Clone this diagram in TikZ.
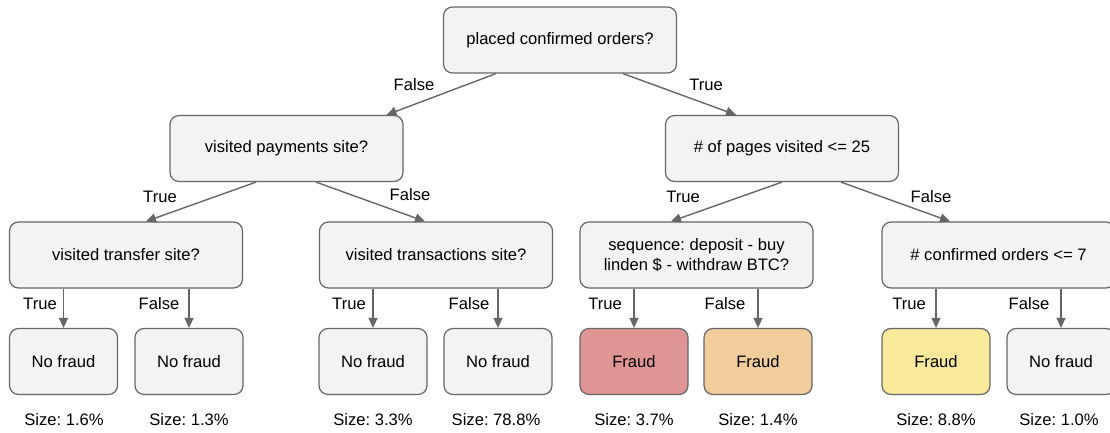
\documentclass[tikz,border=0pt]{standalone}
\usepackage{fontspec}
\setmainfont{Liberation Sans}
\usetikzlibrary{arrows.meta}
\definecolor{boxfill}{HTML}{F3F3F3}
\definecolor{boxline}{HTML}{666666}
\definecolor{fraudred}{HTML}{E09595}
\definecolor{fraudorange}{HTML}{F2CD9C}
\definecolor{fraudyellow}{HTML}{F9E99B}
\frenchspacing
\begin{document}
\begin{tikzpicture}[x=1pt,y=-1pt,
  font=\fontsize{16.6}{19.5}\selectfont,
  decision/.style={draw=boxline, line width=1.2pt, fill=boxfill, rounded corners=9pt,
    minimum width=233pt, minimum height=66pt, inner sep=0pt, align=center},
  leaf/.style={decision, minimum width=108pt},
  edge/.style={draw=boxline, line width=1.4pt, -{Triangle[length=10pt,width=9pt]}},
  lbl/.style={inner sep=0pt}]
\useasboundingbox (0,0) rectangle (1110,433);

% decision nodes
\node[decision] (root) at (560,40) {placed confirmed orders?};
\node[decision] (pay) at (286.5,148.5) {visited payments site?};
\node[decision] (pages) at (782,148.5) {\# of pages visited <= 25};
\node[decision] (transfer) at (126,255) {visited transfer site?};
\node[decision] (trans) at (436,255) {visited transactions site?};
\node[decision] (seq) at (696.5,255) {sequence: deposit - buy\\linden \$ - withdraw BTC?};
\node[decision] (conf) at (998.5,255) {\# confirmed orders <= 7};

% leaves
\node[leaf] (l1) at (63.5,361.5) {No fraud};
\node[leaf] (l2) at (189,361.5) {No fraud};
\node[leaf] (l3) at (373,361.5) {No fraud};
\node[leaf] (l4) at (498,361.5) {No fraud};
\node[leaf, fill=fraudred] (l5) at (634,361.5) {Fraud};
\node[leaf, fill=fraudorange] (l6) at (758,361.5) {Fraud};
\node[leaf, fill=fraudyellow] (l7) at (936,361.5) {Fraud};
\node[leaf] (l8) at (1061,361.5) {No fraud};

% upper edges
\draw[edge] ([xshift=-64pt]root.south) -- ([xshift=100pt]pay.north);
\draw[edge] ([xshift=63pt]root.south) -- ([xshift=-46pt]pages.north);
\draw[edge] ([xshift=-30.5pt]pay.south) -- ([xshift=20pt]transfer.north);
\draw[edge] ([xshift=29.5pt]pay.south) -- ([xshift=-11pt]trans.north);
\draw[edge] (pages.south) -- ([xshift=-25.5pt]seq.north);
\draw[edge] ([xshift=59pt]pages.south) -- ([xshift=-48.5pt]conf.north);

% leaf edges
\foreach \p/\c in {transfer/l1, transfer/l2, trans/l3, trans/l4, seq/l5, seq/l6, conf/l7, conf/l8}
  \draw[edge] (\c.north |- \p.south) -- (\c.north);

% branch labels
\node[lbl] (f0) at (414,85) {False};
\node[lbl] (t0) at (706,85) {True};
\node[lbl] (t1) at (160,197) {True};
\node[lbl] (f1) at (410,195) {False};
\node[lbl] (t2) at (683,197) {True};
\node[lbl] (f2) at (931,197) {False};
\node[lbl] (t3) at (40,304) {True};
\node[lbl] (f3) at (159,304) {False};
\node[lbl] (t4) at (349,304) {True};
\node[lbl] (f4) at (469,304) {False};
\node[lbl] (t5) at (605,304) {True};
\node[lbl] (f5) at (725,304) {False};
\node[lbl] (t6) at (909,304) {True};
\node[lbl] (f6) at (1029,304) {False};

% leaf sizes
\node[lbl] (s1) at (64,420) {Size: 1.6\%};
\node[lbl] (s2) at (189,420) {Size: 1.3\%};
\node[lbl] (s3) at (373,420) {Size: 3.3\%};
\node[lbl] (s4) at (496,420) {Size: 78.8\%};
\node[lbl] (s5) at (634,420) {Size: 3.7\%};
\node[lbl] (s6) at (758,420) {Size: 1.4\%};
\node[lbl] (s7) at (936,420) {Size: 8.8\%};
\node[lbl] (s8) at (1059,420) {Size: 1.0\%};
\end{tikzpicture}
\end{document}
